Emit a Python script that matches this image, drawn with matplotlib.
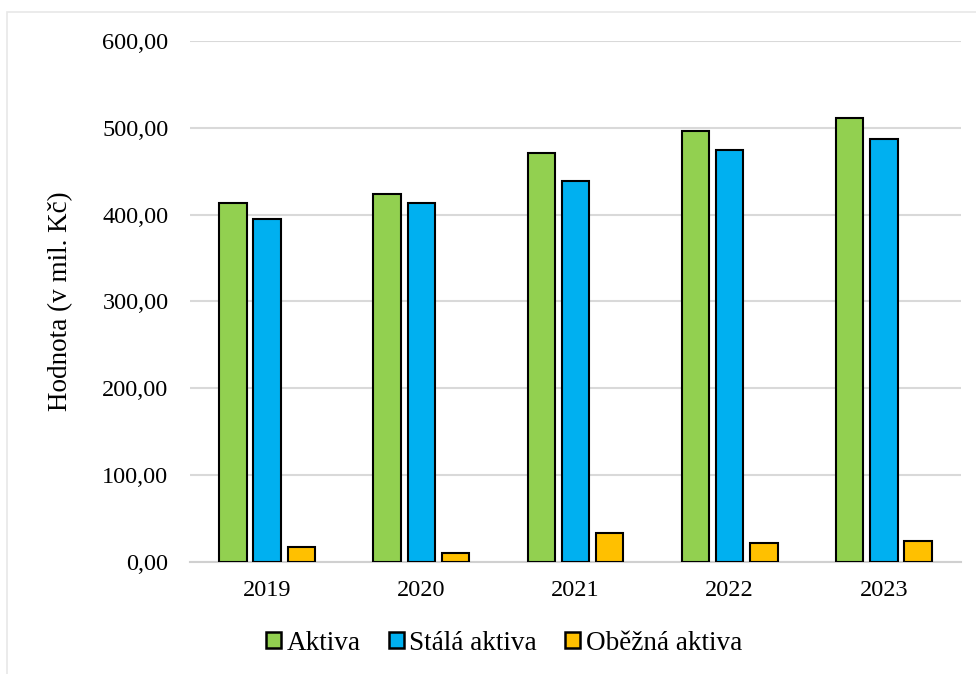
import numpy as np
import matplotlib
matplotlib.use('Agg')
import matplotlib.pyplot as plt
from matplotlib.patches import Rectangle
from matplotlib.ticker import FuncFormatter

years = ['2019', '2020', '2021', '2022', '2023']
aktiva = [413, 424, 471, 497, 512]
stala_aktiva = [395, 413, 439, 475, 487]
obezna_aktiva = [17, 10, 32.5, 21, 24]

plt.rcParams['font.family'] = ['Liberation Serif', 'DejaVu Serif']

fig = plt.figure(figsize=(9.76, 6.74), dpi=100)
ax = fig.add_axes([190/976, 1 - 561.5/674, (961 - 190)/976, (561.5 - 41.3)/674])

x = np.arange(len(years))
w = 0.178
step = 0.222
series = [
    (aktiva, '#92D050', 'Aktiva'),
    (stala_aktiva, '#00B0F0', 'Stálá aktiva'),
    (obezna_aktiva, '#FFC000', 'Oběžná aktiva'),
]
for i, (vals, col, lab) in enumerate(series):
    ax.bar(x + (i - 1) * step, vals, width=w, color=col, edgecolor='black',
           linewidth=1.5, label=lab, zorder=3)

ax.set_xlim(-0.5, len(years) - 0.5)
ax.set_ylim(0, 600)
ax.set_yticks(np.arange(0, 601, 100))
ax.yaxis.set_major_formatter(FuncFormatter(lambda v, p: '{:.2f}'.format(v).replace('.', ',')))
ax.set_xticks(x)
ax.set_xticklabels(years)
ax.grid(axis='y', color='#D9D9D9', linewidth=1.5, zorder=0)
for s in ['top', 'right', 'left']:
    ax.spines[s].set_visible(False)
ax.spines['bottom'].set_color('#D0D0D0')
ax.spines['bottom'].set_linewidth(1.5)
ax.tick_params(axis='both', length=0, labelsize=17.5, colors='black')
ax.tick_params(axis='x', pad=13)
ax.tick_params(axis='y', pad=15.5)
ax.set_ylabel('Hodnota (v mil. Kč)', fontsize=19.5)
ax.yaxis.set_label_coords(-0.152, 0.5)

leg = fig.legend(loc='center', bbox_to_anchor=(504/976, 1 - 643/674), ncol=3,
                 frameon=False, fontsize=19.5, handlelength=0.55, handleheight=0.55,
                 handletextpad=0.2, columnspacing=1.05)
for h in leg.legend_handles:
    h.set_linewidth(1.8)

fig.patches.append(Rectangle((7/976, -0.05), 1.1, 1 - 12/674 + 0.05,
                             transform=fig.transFigure, fill=False,
                             edgecolor='#E8E8E8', linewidth=1.2))

fig.savefig('out.png', dpi=100)
